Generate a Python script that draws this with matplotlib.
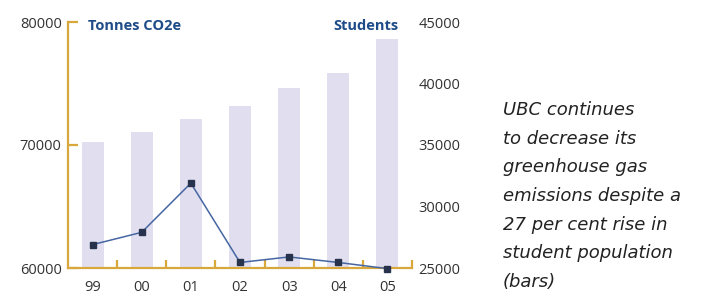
import numpy as np
import matplotlib
matplotlib.use("Agg")
import matplotlib.pyplot as plt

# data
years = ["99", "00", "01", "02", "03", "04", "05"]
co2_tonnes = [61900, 62900, 66900, 60450, 60900, 60450, 59950]
students = [35250, 36050, 37100, 38150, 39600, 40850, 43600]

gold = "#D9A83C"
bar_col = "#E1DFEF"
line_col = "#4566A2"
label_blue = "#1E4C88"
txt = "#333333"

plt.rcParams["font.family"] = ["Open Sans", "DejaVu Sans"]

fig = plt.figure(figsize=(7.15, 2.95), dpi=100)
ax = fig.add_axes([68/715, 1-268/295, 344/715, 246/295])
ax2 = ax.twinx()
ax.set_zorder(ax2.get_zorder() + 1)
ax.patch.set_visible(False)

x = np.arange(len(years))

# students as bars, right axis
ax2.bar(x, students, width=0.45, color=bar_col, zorder=1)
ax2.set_ylim(25000, 45000)
ax2.set_yticks([25000, 30000, 35000, 40000, 45000])
ax2.tick_params(axis="y", length=0, pad=4.5, labelsize=10.5, labelcolor=txt)

# emissions as line, left axis
ax.plot(x, co2_tonnes, color=line_col, lw=1.1, marker="s", ms=4.5,
        mfc="#27324C", mec="#27324C", clip_on=False, zorder=5)
ax.set_ylim(60000, 80000)
ax.set_yticks([60000, 70000, 80000])
ax.set_xlim(-0.5, 6.5)
ax.set_xticks(x)
ax.set_xticklabels(years)
ax.set_xticks(np.arange(0.5, 7, 1), minor=True)
ax.tick_params(axis="x", which="major", length=0, pad=8.5, labelsize=10.5, labelcolor=txt)
ax.tick_params(axis="x", which="minor", direction="in", length=6, width=1.6, color=gold)
ax.tick_params(axis="y", direction="in", length=7, width=1.6, color=gold, pad=4.5,
               labelsize=10.5, labelcolor=txt)

for a in (ax, ax2):
    for s in a.spines.values():
        s.set_visible(False)
for side in ("left", "bottom"):
    ax.spines[side].set_visible(True)
    ax.spines[side].set_color(gold)
    ax.spines[side].set_linewidth(1.6)

ax.text(0.058, 0.982, "Tonnes CO2e", transform=ax.transAxes, color=label_blue,
        fontsize=10.5, fontweight="bold", ha="left", va="center")
ax.text(0.962, 0.982, "Students", transform=ax.transAxes, color=label_blue,
        fontsize=10.5, fontweight="bold", ha="right", va="center")

fig.text(503/715, 1-101/295,
         "UBC continues\nto decrease its\ngreenhouse gas\nemissions despite a\n"
         "27 per cent rise in\nstudent population\n(bars)",
         family="DejaVu Sans", fontsize=13, style="italic", color="#222222",
         ha="left", va="top", linespacing=1.76)

fig.savefig("out.png", dpi=100)
